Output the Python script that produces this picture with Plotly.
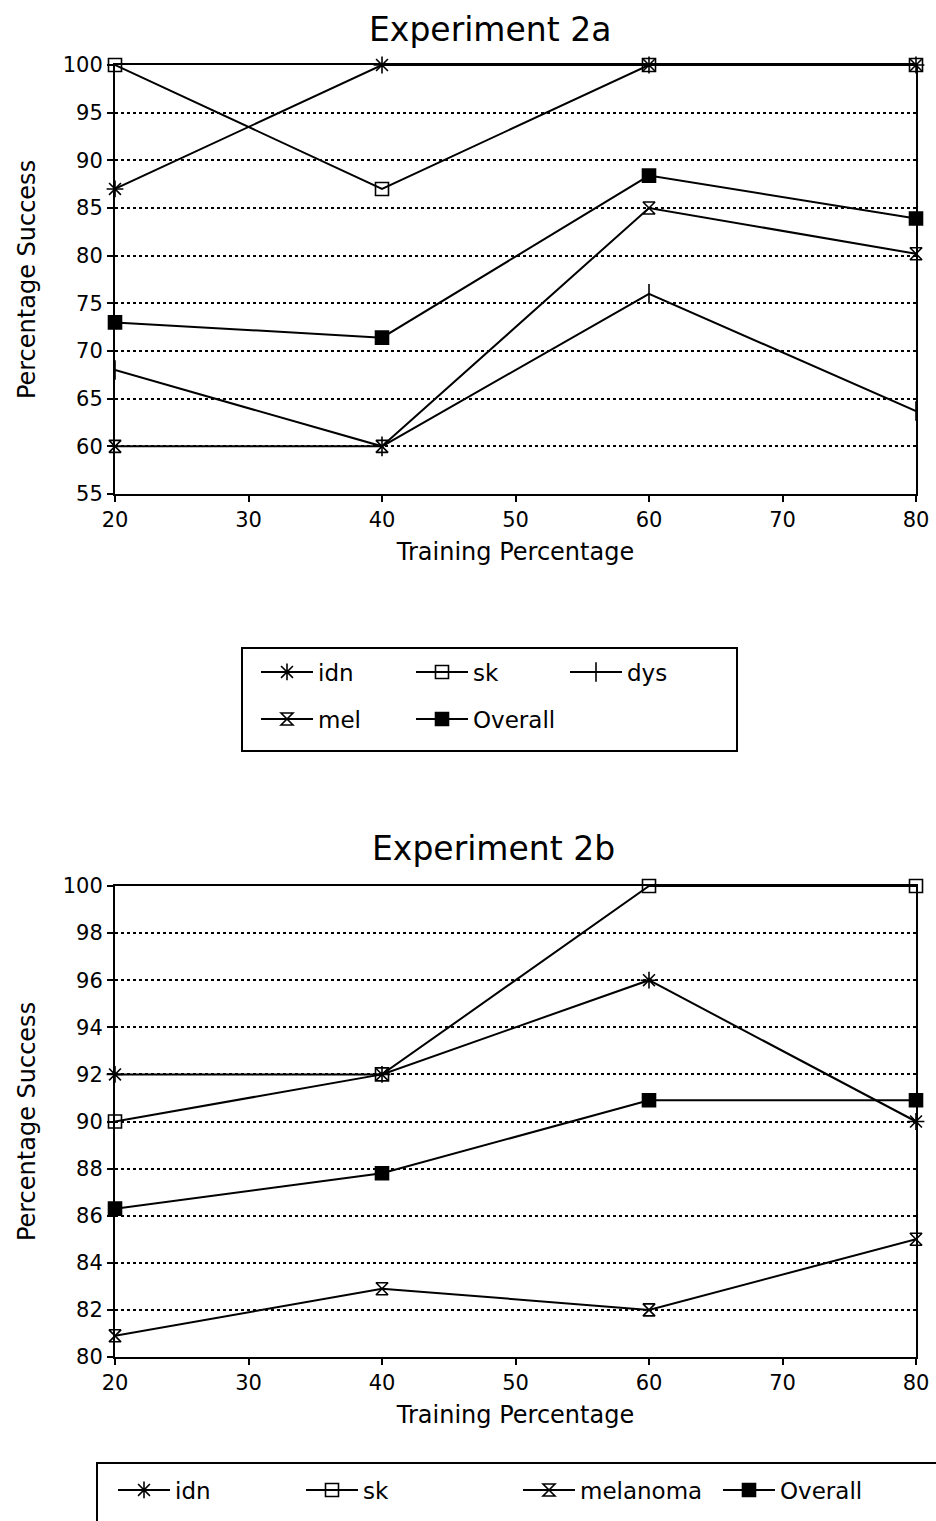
import plotly.graph_objects as go

# ---------------- data ----------------
training = [20, 40, 60, 80]

# Experiment 2a
a_idn = [87, 100, 100, 100]
a_sk = [100, 87, 100, 100]
a_dys = [68, 60, 76, 63.7]
a_mel = [60, 60, 85, 80.2]
a_overall = [73, 71.4, 88.4, 83.9]

# Experiment 2b
b_idn = [92, 92, 96, 90]
b_sk = [90, 92, 100, 100]
b_melanoma = [80.9, 82.9, 82.0, 85]
b_overall = [86.3, 87.8, 90.9, 90.9]

x_ticks = [20, 30, 40, 50, 60, 70, 80]
a_yticks = [55, 60, 65, 70, 75, 80, 85, 90, 95, 100]
b_yticks = [80, 82, 84, 86, 88, 90, 92, 94, 96, 98, 100]

W, H = 936, 1521
ML, MR = 115, 20
PW = W - ML - MR


def px(xp):
    return (xp - ML) / PW


def py(yp):
    return 1 - yp / H


FONT = "DejaVu Sans, Verdana, sans-serif"

fig = go.Figure()

sym = {
    "idn": "asterisk-open",
    "sk": "square-open",
    "dys": "line-ns-open",
    "mel": "hourglass-open",
    "melanoma": "hourglass-open",
    "Overall": "square",
}
msize = {"idn": 14, "sk": 13, "dys": 14, "mel": 12, "melanoma": 12, "Overall": 13}

top_series = [("idn", a_idn), ("sk", a_sk), ("dys", a_dys), ("mel", a_mel), ("Overall", a_overall)]
top_leg_pos = [(256, 672), (411, 672), (565, 672), (256, 719), (411, 719)]
bot_series = [("idn", b_idn), ("sk", b_sk), ("melanoma", b_melanoma), ("Overall", b_overall)]
bot_leg_pos = [(113, 1490), (301, 1490), (518, 1490), (718, 1490)]

legends = {}
k = 2
for series, positions, xa, ya in [(top_series, top_leg_pos, "x", "y"),
                                   (bot_series, bot_leg_pos, "x2", "y2")]:
    for (name, vals), (lx, ly) in zip(series, positions):
        lid = f"legend{k}"
        fig.add_trace(go.Scatter(
            x=training, y=vals, name=name, mode="lines+markers",
            line=dict(color="black", width=2),
            marker=dict(symbol=sym[name], size=msize[name], color="black",
                        line=dict(color="black", width=1.6)),
            cliponaxis=False,
            xaxis=xa, yaxis=ya, legend=lid, showlegend=True))
        legends[lid] = dict(x=px(lx), y=py(ly), xanchor="left", yanchor="middle",
                            bgcolor="rgba(0,0,0,0)", borderwidth=0, itemwidth=52,
                            font=dict(family=FONT, size=23, color="black"))
        k += 1

axis_common = dict(
    showline=True, linecolor="black", linewidth=2, mirror=True,
    ticks="outside", ticklen=6, tickwidth=2, tickcolor="black",
    tickfont=dict(family=FONT, size=21, color="black"),
    zeroline=False, automargin=False,
)

fig.update_layout(
    width=W, height=H,
    margin=dict(l=ML, r=MR, t=0, b=0, autoexpand=False),
    paper_bgcolor="white", plot_bgcolor="white",
    font=dict(family=FONT, color="black"),
    showlegend=True,
    xaxis=dict(domain=[0, 1], anchor="y", range=[20, 80], tickvals=x_ticks,
               showgrid=False,
               title=dict(text="Training Percentage", font=dict(family=FONT, size=24), standoff=12),
               **axis_common),
    yaxis=dict(domain=[py(494), py(65)], anchor="x", range=[55, 100], tickvals=a_yticks,
               showgrid=True, gridcolor="black", gridwidth=2, griddash="dot",
               title=dict(text="Percentage Success", font=dict(family=FONT, size=24), standoff=20),
               **axis_common),
    xaxis2=dict(domain=[0, 1], anchor="y2", range=[20, 80], tickvals=x_ticks,
                showgrid=False,
                title=dict(text="Training Percentage", font=dict(family=FONT, size=24), standoff=12),
                **axis_common),
    yaxis2=dict(domain=[py(1357), py(886)], anchor="x2", range=[80, 100], tickvals=b_yticks,
                showgrid=True, gridcolor="black", gridwidth=2, griddash="dot",
                title=dict(text="Percentage Success", font=dict(family=FONT, size=24), standoff=20),
                **axis_common),
    annotations=[
        dict(text="Experiment 2a", x=px(490), y=py(30), xref="paper", yref="paper",
             showarrow=False, xanchor="center", yanchor="middle",
             font=dict(family=FONT, size=33, color="black")),
        dict(text="Experiment 2b", x=px(493), y=py(848), xref="paper", yref="paper",
             showarrow=False, xanchor="center", yanchor="middle",
             font=dict(family=FONT, size=33, color="black")),
    ],
    shapes=[
        dict(type="rect", xref="paper", yref="paper",
             x0=px(242), x1=px(737), y0=py(751), y1=py(648),
             line=dict(color="black", width=2), fillcolor="rgba(0,0,0,0)"),
        dict(type="rect", xref="paper", yref="paper",
             x0=px(97), x1=px(950), y0=py(1540), y1=py(1463),
             line=dict(color="black", width=2), fillcolor="rgba(0,0,0,0)"),
    ],
    **legends,
)

fig.write_html("out.html",
               config={"displayModeBar": False},
               post_script="document.body.style.margin='0px';document.body.style.overflow='hidden';")
